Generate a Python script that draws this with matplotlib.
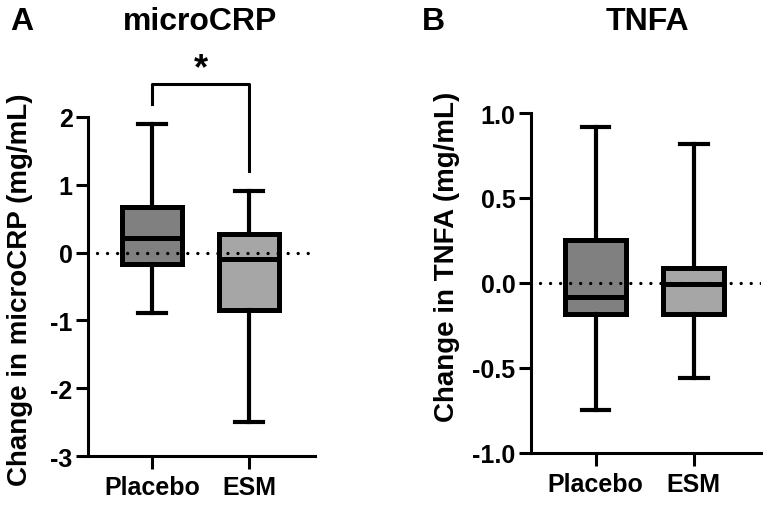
import matplotlib.pyplot as plt

plt.rcParams['font.family'] = ['Liberation Sans', 'DejaVu Sans']
plt.rcParams['font.weight'] = 'bold'

groups = ["Placebo", "ESM"]
box_colors = ["#808080", "#a6a6a6"]

# microCRP: whisker low, Q1, median, Q3, whisker high
crp_low = [-0.89, -2.50]
crp_q1 = [-0.17, -0.84]
crp_med = [0.21, -0.10]
crp_q3 = [0.67, 0.28]
crp_high = [1.90, 0.91]
crp_ticks = [-3, -2, -1, 0, 1, 2]
crp_ticklabels = ["-3", "-2", "-1", "0", "1", "2"]

# TNFA
tnf_low = [-0.745, -0.56]
tnf_q1 = [-0.18, -0.18]
tnf_med = [-0.08, -0.005]
tnf_q3 = [0.25, 0.09]
tnf_high = [0.92, 0.82]
tnf_ticks = [-1.0, -0.5, 0.0, 0.5, 1.0]
tnf_ticklabels = ["-1.0", "-0.5", "0.0", "0.5", "1.0"]

# significance bracket for microCRP
sig_top = 2.49
sig_left_end = 2.19
sig_right_end = 1.20
sig_star_y = 2.46


def make_stats(low, q1, med, q3, high):
    stats = []
    for i in range(len(groups)):
        stats.append({"whislo": low[i], "q1": q1[i], "med": med[i],
                      "q3": q3[i], "whishi": high[i], "fliers": [],
                      "label": groups[i]})
    return stats


def draw_panel(ax, stats, ticks, ticklabels, ylim, ylabel, label_xy):
    bp = ax.bxp(stats, positions=[0, 1], widths=0.62, patch_artist=True,
                showfliers=False,
                boxprops=dict(linewidth=3.6, edgecolor="black"),
                medianprops=dict(color="black", linewidth=3.6),
                whiskerprops=dict(color="black", linewidth=3.0),
                capprops=dict(color="black", linewidth=3.0),
                capwidths=0.28)
    for patch, c in zip(bp["boxes"], box_colors):
        patch.set_facecolor(c)
        patch.set_joinstyle("miter")
    ax.axhline(0, xmin=0.04, xmax=1.0, color="black", lw=2.4,
               linestyle=(0, (0.01, 3.0)), dash_capstyle="round", zorder=5)
    ax.set_xlim(-0.66, 1.68)
    ax.set_ylim(*ylim)
    ax.set_yticks(ticks)
    ax.set_yticklabels(ticklabels)
    ax.set_xticks([0, 1])
    ax.set_xticklabels(groups)
    ax.spines["top"].set_visible(False)
    ax.spines["right"].set_visible(False)
    for s in ["left", "bottom"]:
        ax.spines[s].set_linewidth(2.2)
    ax.tick_params(width=2.2, length=9, labelsize=18)
    ax.tick_params(axis="y", pad=2)
    ax.tick_params(axis="x", pad=5)
    ax.set_ylabel(ylabel, fontsize=20, fontweight="bold", va="center")
    ax.yaxis.set_label_coords(*label_xy)


fig = plt.figure(figsize=(7.68, 5.06), dpi=100)
ax1 = fig.add_axes([0.1146, 0.0968, 0.2956, 0.6702])
ax2 = fig.add_axes([0.691, 0.1028, 0.2995, 0.6719])

draw_panel(ax1, make_stats(crp_low, crp_q1, crp_med, crp_q3, crp_high),
           crp_ticks, crp_ticklabels, (-3, 2), "Change in microCRP (mg/mL)",
           (-0.30, 0.493))
draw_panel(ax2, make_stats(tnf_low, tnf_q1, tnf_med, tnf_q3, tnf_high),
           tnf_ticks, tnf_ticklabels, (-1.0, 1.0), "Change in TNFA (mg/mL)",
           (-0.366, 0.579))

ax1.plot([0, 0, 1, 1], [sig_left_end, sig_top, sig_top, sig_right_end],
         color="black", lw=2.2, clip_on=False)
ax1.text(0.5, sig_star_y, "*", ha="center", va="bottom", fontsize=26,
         fontweight="bold", clip_on=False)

fig.text(0.028, 0.957, "A", fontsize=23, fontweight="bold", va="center", ha="center")
fig.text(0.261, 0.957, "microCRP", fontsize=23, fontweight="bold", va="center", ha="center")
fig.text(0.564, 0.957, "B", fontsize=23, fontweight="bold", va="center", ha="center")
fig.text(0.843, 0.957, "TNFA", fontsize=23, fontweight="bold", va="center", ha="center")

fig.savefig("out.png", dpi=100)
